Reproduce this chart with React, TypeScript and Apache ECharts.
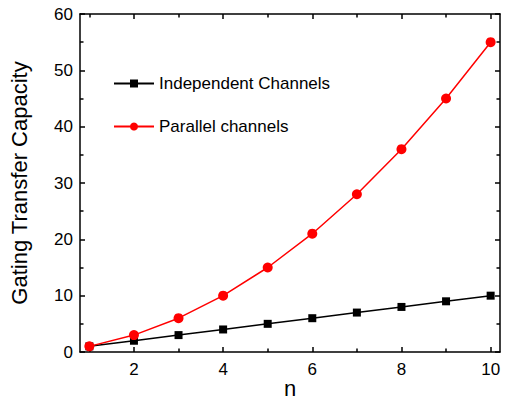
import React, { useEffect, useRef } from "react";
import * as echarts from "echarts";

const nValues = [1, 2, 3, 4, 5, 6, 7, 8, 9, 10];
const independent = [1, 2, 3, 4, 5, 6, 7, 8, 9, 10];
const parallel = [1, 3, 6, 10, 15, 21, 28, 36, 45, 55];
const xMajor = [2, 4, 6, 8, 10];
const xMinor = [1, 3, 5, 7, 9];
const font = "Liberation Sans, Arial, sans-serif";

export default function App() {
  const ref = useRef<HTMLDivElement>(null);
  useEffect(() => {
    if (!ref.current) return;
    const chart = echarts.init(ref.current, undefined, { renderer: "svg" });
    const baseX = {
      type: "value",
      min: 0.79,
      max: 10.21,
      splitLine: { show: false },
    };
    const line = { show: true, lineStyle: { color: "#000", width: 1.5 } };
    chart.setOption({
      animation: false,
      grid: { left: 80, top: 14, right: 5, bottom: 47, containLabel: false, outerBoundsMode: "none" },
      legend: {
        orient: "vertical",
        left: 113,
        top: 75,
        padding: 0,
        itemWidth: 40,
        itemHeight: 10,
        itemGap: 26,
        textStyle: { fontFamily: font, fontSize: 17, color: "#000" },
        data: ["Independent Channels", "Parallel channels"],
      },
      xAxis: [
        {
          ...baseX,
          position: "bottom",
          axisLine: line,
          name: "n",
          nameLocation: "middle",
          nameGap: 25,
          nameMoveOverlap: false,
          nameTextStyle: { fontFamily: font, fontSize: 22, color: "#000", lineHeight: 22 },
          axisTick: { show: true, inside: true, length: 5, customValues: xMajor, lineStyle: { color: "#000", width: 1.5 } },
          axisLabel: { customValues: xMajor, fontFamily: font, fontSize: 17, color: "#000", margin: 9 },
        },
        {
          ...baseX,
          position: "bottom",
          axisLine: { show: false },
          axisTick: { show: true, inside: true, length: 3.5, customValues: xMinor, lineStyle: { color: "#000", width: 1.5 } },
          axisLabel: { show: false },
        },
        {
          ...baseX,
          position: "top",
          axisLine: line,
          axisTick: { show: true, inside: true, length: 5, customValues: xMajor, lineStyle: { color: "#000", width: 1.5 } },
          axisLabel: { show: false },
        },
        {
          ...baseX,
          position: "top",
          axisLine: { show: false },
          axisTick: { show: true, inside: true, length: 3.5, customValues: xMinor, lineStyle: { color: "#000", width: 1.5 } },
          axisLabel: { show: false },
        },
      ],
      yAxis: [
        {
          type: "value",
          min: 0,
          max: 60,
          interval: 10,
          position: "left",
          axisLine: line,
          splitLine: { show: false },
          axisTick: { show: true, inside: true, length: 5, lineStyle: { color: "#000", width: 1.5 } },
          minorTick: { show: true, splitNumber: 2, length: 3.5, lineStyle: { color: "#000", width: 1.5 } },
          axisLabel: { fontFamily: font, fontSize: 17, color: "#000", margin: 7 },
          name: "Gating Transfer Capacity",
          nameLocation: "middle",
          nameGap: 50,
          nameMoveOverlap: false,
          nameTextStyle: { fontFamily: font, fontSize: 22, color: "#000" },
        },
        {
          type: "value",
          min: 0,
          max: 60,
          interval: 10,
          position: "right",
          axisLine: line,
          splitLine: { show: false },
          axisTick: { show: true, inside: true, length: 5, lineStyle: { color: "#000", width: 1.5 } },
          minorTick: { show: true, splitNumber: 2, length: 3.5, lineStyle: { color: "#000", width: 1.5 } },
          axisLabel: { show: false },
        },
      ],
      series: [
        {
          name: "Independent Channels",
          type: "line",
          xAxisIndex: 0,
          yAxisIndex: 0,
          data: nValues.map((n, i) => [n, independent[i]]),
          symbol: "rect",
          symbolSize: 8,
          itemStyle: { color: "#000" },
          lineStyle: { color: "#000", width: 1.5 },
          z: 3,
        },
        {
          name: "Parallel channels",
          type: "line",
          xAxisIndex: 0,
          yAxisIndex: 0,
          data: nValues.map((n, i) => [n, parallel[i]]),
          symbol: "circle",
          symbolSize: 10,
          itemStyle: { color: "#ff0000" },
          lineStyle: { color: "#ff0000", width: 1.5 },
          z: 4,
        },
      ],
    });
    return () => chart.dispose();
  }, []);
  return <div ref={ref} style={{ width: 505, height: 399, position: "absolute", left: 0, top: 0 }} />;
}
